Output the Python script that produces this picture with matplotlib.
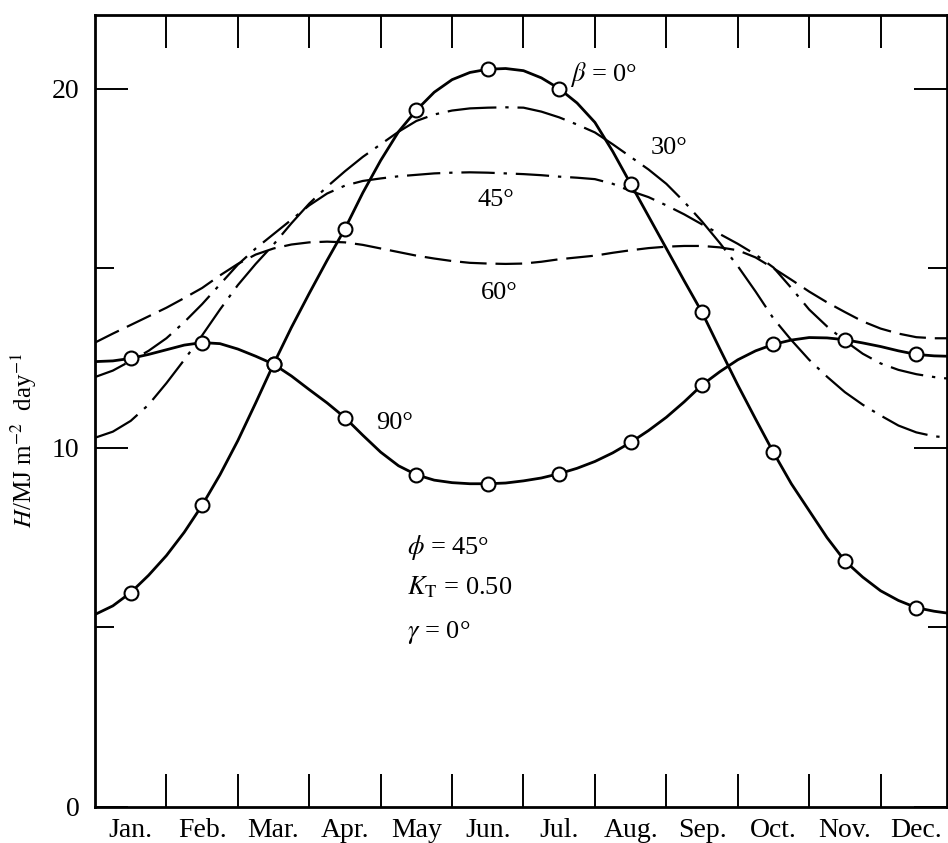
import numpy as np
import matplotlib.pyplot as plt

# months along x, positions in months from 1 Jan (quarter-month readings)
months = ['Jan.', 'Feb.', 'Mar.', 'Apr.', 'May', 'Jun.', 'Jul.', 'Aug.', 'Sep.', 'Oct.', 'Nov.', 'Dec.']
t = [0.0, 0.25, 0.5, 0.75, 1.0, 1.25, 1.5, 1.75, 2.0, 2.25, 2.5, 2.75,
     3.0, 3.25, 3.5, 3.75, 4.0, 4.25, 4.5, 4.75, 5.0, 5.25, 5.5, 5.75,
     6.0, 6.25, 6.5, 6.75, 7.0, 7.25, 7.5, 7.75, 8.0, 8.25, 8.5, 8.75,
     9.0, 9.25, 9.5, 9.75, 10.0, 10.25, 10.5, 10.75, 11.0, 11.25, 11.5, 11.75,
     11.93]

# daily radiation H (MJ m-2 day-1) on a surface tilted at beta
h_0 = [5.36, 5.6, 5.97, 6.45, 7.0, 7.65, 8.4, 9.25, 10.2, 11.25, 12.33, 13.35,
       14.3, 15.22, 16.1, 17.1, 18.0, 18.8, 19.4, 19.9, 20.25, 20.45, 20.54, 20.56,
       20.5, 20.3, 20.0, 19.6, 19.06, 18.25, 17.35, 16.45, 15.55, 14.65, 13.77, 12.75,
       11.75, 10.8, 9.87, 9.0, 8.25, 7.5, 6.85, 6.4, 6.02, 5.75, 5.55, 5.45,
       5.4]
h_30 = [10.28, 10.45, 10.75, 11.2, 11.8, 12.45, 13.13, 13.85, 14.53, 15.12, 15.66, 16.25,
        16.8, 17.27, 17.7, 18.1, 18.45, 18.8, 19.1, 19.28, 19.39, 19.45, 19.47, 19.48,
        19.47, 19.36, 19.2, 19.0, 18.78, 18.45, 18.1, 17.75, 17.35, 16.85, 16.3, 15.7,
        15.06, 14.35, 13.6, 13.0, 12.45, 11.98, 11.55, 11.2, 10.9, 10.62, 10.43, 10.32,
        10.29]
h_45 = [11.97, 12.15, 12.42, 12.7, 13.05, 13.5, 14.0, 14.55, 15.1, 15.55, 15.95, 16.35,
        16.75, 17.08, 17.3, 17.43, 17.5, 17.56, 17.6, 17.64, 17.66, 17.67, 17.66, 17.64,
        17.62, 17.59, 17.55, 17.52, 17.48, 17.35, 17.15, 16.98, 16.75, 16.5, 16.22, 15.95,
        15.68, 15.38, 15.02, 14.45, 13.85, 13.38, 12.98, 12.62, 12.35, 12.17, 12.05, 11.97,
        11.93]
h_60 = [12.93, 13.18, 13.42, 13.66, 13.9, 14.17, 14.45, 14.8, 15.12, 15.38, 15.55, 15.66,
        15.72, 15.74, 15.72, 15.65, 15.55, 15.45, 15.35, 15.27, 15.2, 15.15, 15.13, 15.12,
        15.13, 15.18, 15.25, 15.3, 15.35, 15.43, 15.5, 15.56, 15.6, 15.62, 15.62, 15.58,
        15.5, 15.3, 15.0, 14.68, 14.35, 14.05, 13.78, 13.52, 13.32, 13.18, 13.08, 13.05,
        13.05]
h_90 = [12.4, 12.42, 12.49, 12.6, 12.73, 12.86, 12.93, 12.9, 12.75, 12.55, 12.33, 12.0,
        11.62, 11.25, 10.84, 10.35, 9.88, 9.5, 9.25, 9.1, 9.03, 9.0, 9.0, 9.02,
        9.08, 9.16, 9.28, 9.43, 9.62, 9.86, 10.15, 10.48, 10.85, 11.28, 11.75, 12.12,
        12.45, 12.7, 12.88, 13.0, 13.07, 13.06, 13.01, 12.92, 12.82, 12.7, 12.6, 12.56,
        12.55]

plt.rcParams['font.family'] = ['Liberation Serif', 'DejaVu Serif']
plt.rcParams['mathtext.fontset'] = 'stix'

fig = plt.figure(figsize=(9.48, 8.43), dpi=100)
ax = fig.add_axes([95 / 948, 36 / 843, 852 / 948, 792 / 843])

mid = slice(2, 48, 4)   # mid-month points carry the circles
lw_d = 1.6
ax.plot(t, h_60, color='k', lw=lw_d, dashes=[12, 4])
ax.plot(t, h_45, color='k', lw=lw_d, dashes=[15, 4, 1.5, 4])
ax.plot(t, h_30, color='k', lw=lw_d, dashes=[22, 4, 1.5, 4])
for h in (h_0, h_90):
    ax.plot(t, h, color='k', lw=2.0, marker='o', ms=10, mfc='white', mec='k', mew=1.5,
            markevery=mid, zorder=3)

ax.set_xlim(0, 11.93)
ax.set_ylim(0, 22.05)

ax.set_xticks(range(1, 12))
ax.set_xticklabels([])
ax.set_xticks(np.arange(0.5, 12, 1), minor=True)
ax.set_xticklabels(months, minor=True)
ax.tick_params(axis='x', which='major', direction='in', length=24, width=1.4, top=True, bottom=True)
ax.tick_params(axis='x', which='minor', length=0, labelsize=20, pad=8)

ax.set_yticks([0, 10, 20])
ax.set_yticks([5, 15], minor=True)
ax.tick_params(axis='y', which='major', direction='in', length=24, width=1.4,
               left=True, right=True, labelsize=20, pad=11)
ax.tick_params(axis='y', which='minor', direction='in', length=14, width=1.4, left=True, right=True)

for s in ax.spines.values():
    s.set_linewidth(2)

ax.set_ylabel(r'$H$/MJ m$^{-2}$  day$^{-1}$', fontsize=18)
ax.yaxis.set_label_coords(-0.066, 0.463)

fs = 19
ax.text(6.65, 20.2, r'$\beta$ = 0°', fontsize=fs, ha='left', va='baseline')
ax.text(7.78, 18.17, '30°', fontsize=fs, ha='left', va='baseline')
ax.text(5.36, 16.72, '45°', fontsize=fs, ha='left', va='baseline')
ax.text(5.41, 14.13, '60°', fontsize=fs, ha='left', va='baseline')
ax.text(3.94, 10.51, '90°', fontsize=fs, ha='left', va='baseline')
ax.text(4.37, 7.03, r'$\phi$ = 45°', fontsize=fs, ha='left', va='baseline')
ax.text(4.37, 5.91, r'$K_{\rm T}$ = 0.50', fontsize=fs, ha='left', va='baseline')
ax.text(4.37, 4.71, r'$\gamma$ = 0°', fontsize=fs, ha='left', va='baseline')

fig.savefig('out.png', dpi=100)
